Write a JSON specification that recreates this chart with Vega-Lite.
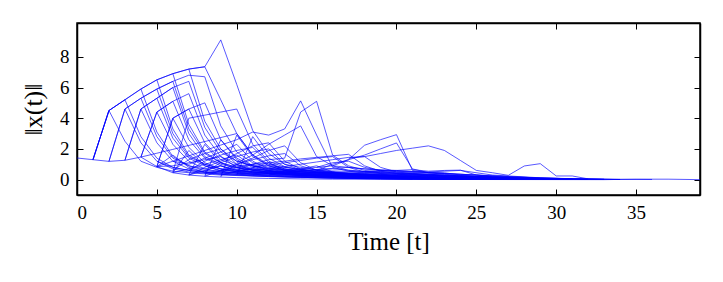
{
"$schema": "https://vega.github.io/schema/vega-lite/v6.json",
"width": 623, "height": 172,
"autosize": {"type": "none"},
"padding": {"left": 77, "top": 23, "right": 23, "bottom": 87},
"background": "white",
"config": {"view": {"stroke": "black", "strokeWidth": 1.5}, "font": "Liberation Serif"},
"data": {"values": [
{"s":0,"t":0,"v":1.41},{"s":0,"t":1,"v":1.30},{"s":0,"t":2,"v":1.19},{"s":0,"t":3,"v":1.26},{"s":0,"t":4,"v":1.47},{"s":0,"t":5,"v":0.85},{"s":0,"t":6,"v":0.45},{"s":0,"t":7,"v":0.30},{"s":0,"t":8,"v":0.22},{"s":0,"t":9,"v":0.17},{"s":0,"t":10,"v":0.13},{"s":0,"t":11,"v":0.10},{"s":0,"t":12,"v":0.08},{"s":0,"t":14,"v":0.05},{"s":0,"t":16,"v":0.03},{"s":0,"t":19,"v":0.02},{"s":0,"t":24,"v":0.01},{"s":0,"t":33,"v":0.0},{"s":0,"t":35,"v":0.03},{"s":0,"t":37,"v":0.03},{"s":0,"t":39,"v":0.0},
{"s":1,"t":1,"v":1.30},{"s":1,"t":2,"v":4.5},{"s":1,"t":3,"v":2.5},{"s":1,"t":4,"v":1.2},{"s":1,"t":5,"v":0.8},{"s":1,"t":6,"v":0.55},{"s":1,"t":7,"v":0.45},{"s":1,"t":9,"v":0.3},{"s":1,"t":12,"v":0.2},{"s":1,"t":16,"v":0.1},{"s":1,"t":22,"v":0.04},
{"s":2,"t":1,"v":1.30},{"s":2,"t":2,"v":4.5},{"s":2,"t":3,"v":5.2},{"s":2,"t":4,"v":2.8},{"s":2,"t":5,"v":1.4},{"s":2,"t":6,"v":0.8},{"s":2,"t":7,"v":0.6},{"s":2,"t":8,"v":0.5},{"s":2,"t":10,"v":0.35},{"s":2,"t":13,"v":0.22},{"s":2,"t":18,"v":0.1},{"s":2,"t":24,"v":0.03},
{"s":3,"t":1,"v":1.30},{"s":3,"t":2,"v":4.5},{"s":3,"t":3,"v":5.2},{"s":3,"t":4,"v":5.9},{"s":3,"t":5,"v":3.1},{"s":3,"t":6,"v":1.5},{"s":3,"t":7,"v":0.9},{"s":3,"t":8,"v":0.7},{"s":3,"t":9,"v":0.9},{"s":3,"t":10,"v":0.6},{"s":3,"t":12,"v":0.4},{"s":3,"t":15,"v":0.2},{"s":3,"t":20,"v":0.08},{"s":3,"t":26,"v":0.02},
{"s":4,"t":1,"v":1.30},{"s":4,"t":2,"v":4.5},{"s":4,"t":3,"v":5.2},{"s":4,"t":4,"v":5.9},{"s":4,"t":5,"v":6.5},{"s":4,"t":6,"v":3.3},{"s":4,"t":7,"v":1.6},{"s":4,"t":8,"v":1.0},{"s":4,"t":9,"v":0.7},{"s":4,"t":10,"v":0.5},{"s":4,"t":11,"v":0.7},{"s":4,"t":12,"v":0.45},{"s":4,"t":14,"v":0.3},{"s":4,"t":18,"v":0.15},{"s":4,"t":24,"v":0.05},
{"s":5,"t":4,"v":5.9},{"s":5,"t":5,"v":6.5},{"s":5,"t":6,"v":6.9},{"s":5,"t":7,"v":3.6},{"s":5,"t":8,"v":1.8},{"s":5,"t":9,"v":1.1},{"s":5,"t":10,"v":0.8},{"s":5,"t":11,"v":0.6},{"s":5,"t":13,"v":0.5},{"s":5,"t":15,"v":0.3},{"s":5,"t":19,"v":0.15},{"s":5,"t":25,"v":0.04},
{"s":6,"t":5,"v":6.5},{"s":6,"t":6,"v":6.9},{"s":6,"t":7,"v":7.2},{"s":6,"t":8,"v":3.8},{"s":6,"t":9,"v":2.0},{"s":6,"t":10,"v":1.2},{"s":6,"t":11,"v":0.9},{"s":6,"t":12,"v":0.7},{"s":6,"t":14,"v":0.5},{"s":6,"t":17,"v":0.3},{"s":6,"t":21,"v":0.12},{"s":6,"t":27,"v":0.03},
{"s":7,"t":6,"v":6.9},{"s":7,"t":7,"v":7.2},{"s":7,"t":8,"v":7.35},{"s":7,"t":9,"v":5.2},{"s":7,"t":10,"v":3.0},{"s":7,"t":11,"v":1.6},{"s":7,"t":12,"v":1.0},{"s":7,"t":13,"v":0.7},{"s":7,"t":15,"v":0.5},{"s":7,"t":18,"v":0.3},{"s":7,"t":22,"v":0.12},{"s":7,"t":28,"v":0.03},
{"s":8,"t":7,"v":7.2},{"s":8,"t":8,"v":7.35},{"s":8,"t":9,"v":9.1},{"s":8,"t":10,"v":6.2},{"s":8,"t":11,"v":3.2},{"s":8,"t":12,"v":1.7},{"s":8,"t":13,"v":1.0},{"s":8,"t":14,"v":0.8},{"s":8,"t":16,"v":0.5},{"s":8,"t":19,"v":0.3},{"s":8,"t":23,"v":0.12},{"s":8,"t":29,"v":0.03},
{"s":9,"t":2,"v":1.19},{"s":9,"t":3,"v":4.6},{"s":9,"t":4,"v":2.4},{"s":9,"t":5,"v":1.2},{"s":9,"t":6,"v":0.7},{"s":9,"t":7,"v":0.5},{"s":9,"t":9,"v":0.35},{"s":9,"t":12,"v":0.2},{"s":9,"t":16,"v":0.1},{"s":9,"t":21,"v":0.03},
{"s":10,"t":2,"v":1.19},{"s":10,"t":3,"v":4.6},{"s":10,"t":4,"v":5.3},{"s":10,"t":5,"v":2.8},{"s":10,"t":6,"v":1.4},{"s":10,"t":7,"v":0.9},{"s":10,"t":8,"v":0.6},{"s":10,"t":10,"v":0.45},{"s":10,"t":13,"v":0.3},{"s":10,"t":17,"v":0.15},{"s":10,"t":23,"v":0.04},
{"s":11,"t":3,"v":4.6},{"s":11,"t":4,"v":5.3},{"s":11,"t":5,"v":5.9},{"s":11,"t":6,"v":3.0},{"s":11,"t":7,"v":1.5},{"s":11,"t":8,"v":1.0},{"s":11,"t":9,"v":0.7},{"s":11,"t":11,"v":0.5},{"s":11,"t":14,"v":0.3},{"s":11,"t":18,"v":0.15},{"s":11,"t":24,"v":0.04},
{"s":12,"t":4,"v":5.3},{"s":12,"t":5,"v":5.9},{"s":12,"t":6,"v":6.4},{"s":12,"t":7,"v":3.3},{"s":12,"t":8,"v":1.7},{"s":12,"t":9,"v":1.1},{"s":12,"t":10,"v":0.8},{"s":12,"t":12,"v":0.6},{"s":12,"t":15,"v":0.35},{"s":12,"t":20,"v":0.15},{"s":12,"t":26,"v":0.03},
{"s":13,"t":5,"v":5.9},{"s":13,"t":6,"v":6.4},{"s":13,"t":7,"v":6.8},{"s":13,"t":8,"v":6.7},{"s":13,"t":9,"v":3.5},{"s":13,"t":10,"v":1.8},{"s":13,"t":11,"v":1.1},{"s":13,"t":12,"v":0.8},{"s":13,"t":14,"v":0.55},{"s":13,"t":17,"v":0.35},{"s":13,"t":22,"v":0.12},{"s":13,"t":28,"v":0.02},
{"s":14,"t":3,"v":1.26},{"s":14,"t":4,"v":4.6},{"s":14,"t":5,"v":2.4},{"s":14,"t":6,"v":1.2},{"s":14,"t":7,"v":0.7},{"s":14,"t":8,"v":0.5},{"s":14,"t":10,"v":0.35},{"s":14,"t":13,"v":0.2},{"s":14,"t":17,"v":0.08},{"s":14,"t":23,"v":0.02},
{"s":15,"t":3,"v":1.26},{"s":15,"t":4,"v":4.6},{"s":15,"t":5,"v":5.3},{"s":15,"t":6,"v":2.7},{"s":15,"t":7,"v":1.4},{"s":15,"t":8,"v":0.9},{"s":15,"t":9,"v":0.6},{"s":15,"t":11,"v":0.45},{"s":15,"t":14,"v":0.3},{"s":15,"t":18,"v":0.12},{"s":15,"t":24,"v":0.03},
{"s":16,"t":4,"v":4.6},{"s":16,"t":5,"v":5.3},{"s":16,"t":6,"v":6.0},{"s":16,"t":7,"v":3.0},{"s":16,"t":8,"v":1.5},{"s":16,"t":9,"v":1.0},{"s":16,"t":10,"v":0.75},{"s":16,"t":12,"v":0.5},{"s":16,"t":15,"v":0.3},{"s":16,"t":20,"v":0.12},{"s":16,"t":25,"v":0.03},
{"s":17,"t":5,"v":5.3},{"s":17,"t":6,"v":6.0},{"s":17,"t":7,"v":6.4},{"s":17,"t":8,"v":3.4},{"s":17,"t":9,"v":1.8},{"s":17,"t":10,"v":1.2},{"s":17,"t":11,"v":0.9},{"s":17,"t":13,"v":0.6},{"s":17,"t":16,"v":0.4},{"s":17,"t":21,"v":0.15},{"s":17,"t":27,"v":0.03},
{"s":18,"t":4,"v":1.47},{"s":18,"t":5,"v":4.4},{"s":18,"t":6,"v":2.3},{"s":18,"t":7,"v":1.2},{"s":18,"t":8,"v":0.7},{"s":18,"t":9,"v":0.5},{"s":18,"t":11,"v":0.35},{"s":18,"t":14,"v":0.2},{"s":18,"t":18,"v":0.08},{"s":18,"t":24,"v":0.02},
{"s":19,"t":4,"v":1.47},{"s":19,"t":5,"v":4.4},{"s":19,"t":6,"v":5.1},{"s":19,"t":7,"v":2.6},{"s":19,"t":8,"v":1.4},{"s":19,"t":9,"v":0.9},{"s":19,"t":10,"v":0.6},{"s":19,"t":12,"v":0.45},{"s":19,"t":15,"v":0.3},{"s":19,"t":19,"v":0.12},{"s":19,"t":25,"v":0.03},
{"s":20,"t":5,"v":4.4},{"s":20,"t":6,"v":5.1},{"s":20,"t":7,"v":5.6},{"s":20,"t":8,"v":2.9},{"s":20,"t":9,"v":1.5},{"s":20,"t":10,"v":1.0},{"s":20,"t":11,"v":0.7},{"s":20,"t":13,"v":0.5},{"s":20,"t":16,"v":0.3},{"s":20,"t":21,"v":0.12},{"s":20,"t":27,"v":0.02},
{"s":21,"t":5,"v":0.85},{"s":21,"t":6,"v":4.0},{"s":21,"t":7,"v":2.1},{"s":21,"t":8,"v":1.1},{"s":21,"t":9,"v":0.7},{"s":21,"t":10,"v":0.5},{"s":21,"t":12,"v":0.35},{"s":21,"t":15,"v":0.2},{"s":21,"t":19,"v":0.08},{"s":21,"t":25,"v":0.02},
{"s":22,"t":5,"v":0.85},{"s":22,"t":6,"v":4.0},{"s":22,"t":7,"v":4.6},{"s":22,"t":8,"v":2.4},{"s":22,"t":9,"v":1.3},{"s":22,"t":10,"v":0.9},{"s":22,"t":11,"v":0.6},{"s":22,"t":13,"v":0.45},{"s":22,"t":16,"v":0.3},{"s":22,"t":20,"v":0.12},{"s":22,"t":26,"v":0.03},
{"s":23,"t":6,"v":4.0},{"s":23,"t":7,"v":4.6},{"s":23,"t":8,"v":5.0},{"s":23,"t":9,"v":2.6},{"s":23,"t":10,"v":1.4},{"s":23,"t":11,"v":0.9},{"s":23,"t":12,"v":0.65},{"s":23,"t":14,"v":0.5},{"s":23,"t":17,"v":0.3},{"s":23,"t":22,"v":0.12},{"s":23,"t":28,"v":0.02},
{"s":24,"t":6,"v":0.5},{"s":24,"t":7,"v":4.0},{"s":24,"t":8,"v":4.2},{"s":24,"t":9,"v":4.4},{"s":24,"t":10,"v":4.6},{"s":24,"t":11,"v":2.3},{"s":24,"t":12,"v":1.2},{"s":24,"t":13,"v":0.8},{"s":24,"t":15,"v":0.55},{"s":24,"t":18,"v":0.3},{"s":24,"t":23,"v":0.1},{"s":24,"t":29,"v":0.02},
{"s":25,"t":4,"v":1.47},{"s":25,"t":5,"v":1.72},{"s":25,"t":6,"v":1.97},{"s":25,"t":7,"v":2.23},{"s":25,"t":8,"v":2.48},{"s":25,"t":9,"v":2.74},{"s":25,"t":10,"v":3.0},{"s":25,"t":11,"v":1.6},{"s":25,"t":12,"v":0.9},{"s":25,"t":13,"v":0.6},{"s":25,"t":15,"v":0.4},{"s":25,"t":18,"v":0.25},{"s":25,"t":23,"v":0.1},{"s":25,"t":30,"v":0.02},
{"s":26,"t":5,"v":0.85},{"s":26,"t":6,"v":1.2},{"s":26,"t":7,"v":1.55},{"s":26,"t":8,"v":1.9},{"s":26,"t":9,"v":2.25},{"s":26,"t":10,"v":2.6},{"s":26,"t":11,"v":3.1},{"s":26,"t":12,"v":2.9},{"s":26,"t":13,"v":3.3},{"s":26,"t":14,"v":5.13},{"s":26,"t":15,"v":2.9},{"s":26,"t":16,"v":0.8},{"s":26,"t":17,"v":0.55},{"s":26,"t":18,"v":0.45},{"s":26,"t":20,"v":0.35},{"s":26,"t":23,"v":0.2},{"s":26,"t":27,"v":0.06},{"s":26,"t":31,"v":0.02},
{"s":27,"t":5,"v":0.85},{"s":27,"t":6,"v":1.6},{"s":27,"t":7,"v":0.8},{"s":27,"t":8,"v":0.5},{"s":27,"t":9,"v":0.35},{"s":27,"t":11,"v":0.25},{"s":27,"t":14,"v":0.15},{"s":27,"t":18,"v":0.06},{"s":27,"t":24,"v":0.02},
{"s":28,"t":6,"v":0.45},{"s":28,"t":7,"v":1.9},{"s":28,"t":8,"v":0.9},{"s":28,"t":9,"v":0.55},{"s":28,"t":10,"v":0.4},{"s":28,"t":12,"v":0.3},{"s":28,"t":15,"v":0.18},{"s":28,"t":19,"v":0.07},{"s":28,"t":25,"v":0.02},
{"s":29,"t":7,"v":0.3},{"s":29,"t":8,"v":2.3},{"s":29,"t":9,"v":1.1},{"s":29,"t":10,"v":0.65},{"s":29,"t":11,"v":0.45},{"s":29,"t":13,"v":0.35},{"s":29,"t":16,"v":0.2},{"s":29,"t":20,"v":0.08},{"s":29,"t":26,"v":0.02},
{"s":30,"t":8,"v":0.22},{"s":30,"t":9,"v":2.6},{"s":30,"t":10,"v":1.3},{"s":30,"t":11,"v":0.8},{"s":30,"t":12,"v":0.55},{"s":30,"t":14,"v":0.4},{"s":30,"t":17,"v":0.25},{"s":30,"t":21,"v":0.1},{"s":30,"t":27,"v":0.02},
{"s":31,"t":9,"v":0.17},{"s":31,"t":10,"v":2.9},{"s":31,"t":11,"v":1.5},{"s":31,"t":12,"v":0.9},{"s":31,"t":13,"v":0.6},{"s":31,"t":15,"v":0.45},{"s":31,"t":18,"v":0.3},{"s":31,"t":22,"v":0.12},{"s":31,"t":28,"v":0.03},
{"s":32,"t":10,"v":0.3},{"s":32,"t":11,"v":2.8},{"s":32,"t":12,"v":1.4},{"s":32,"t":13,"v":0.85},{"s":32,"t":14,"v":0.6},{"s":32,"t":16,"v":0.45},{"s":32,"t":19,"v":0.3},{"s":32,"t":23,"v":0.12},{"s":32,"t":29,"v":0.03},
{"s":33,"t":6,"v":0.6},{"s":33,"t":7,"v":1.3},{"s":33,"t":8,"v":1.7},{"s":33,"t":9,"v":2.0},{"s":33,"t":10,"v":1.0},{"s":33,"t":11,"v":0.6},{"s":33,"t":12,"v":0.45},{"s":33,"t":14,"v":0.35},{"s":33,"t":17,"v":0.2},{"s":33,"t":22,"v":0.07},
{"s":34,"t":7,"v":0.6},{"s":34,"t":8,"v":1.2},{"s":34,"t":9,"v":1.6},{"s":34,"t":10,"v":1.9},{"s":34,"t":11,"v":2.1},{"s":34,"t":12,"v":1.1},{"s":34,"t":13,"v":0.7},{"s":34,"t":14,"v":0.5},{"s":34,"t":16,"v":0.4},{"s":34,"t":19,"v":0.25},{"s":34,"t":24,"v":0.08},
{"s":35,"t":8,"v":0.5},{"s":35,"t":9,"v":1.1},{"s":35,"t":10,"v":1.5},{"s":35,"t":11,"v":1.8},{"s":35,"t":12,"v":2.0},{"s":35,"t":13,"v":1.0},{"s":35,"t":14,"v":0.65},{"s":35,"t":15,"v":0.5},{"s":35,"t":17,"v":0.4},{"s":35,"t":20,"v":0.25},{"s":35,"t":25,"v":0.08},
{"s":36,"t":9,"v":0.4},{"s":36,"t":10,"v":1.0},{"s":36,"t":11,"v":1.3},{"s":36,"t":12,"v":1.55},{"s":36,"t":13,"v":1.7},{"s":36,"t":14,"v":0.9},{"s":36,"t":15,"v":0.6},{"s":36,"t":16,"v":0.5},{"s":36,"t":18,"v":0.4},{"s":36,"t":21,"v":0.25},{"s":36,"t":26,"v":0.06},
{"s":37,"t":10,"v":0.6},{"s":37,"t":11,"v":1.0},{"s":37,"t":12,"v":1.3},{"s":37,"t":13,"v":1.4},{"s":37,"t":14,"v":4.4},{"s":37,"t":15,"v":5.1},{"s":37,"t":16,"v":1.6},{"s":37,"t":17,"v":0.9},{"s":37,"t":18,"v":0.6},{"s":37,"t":20,"v":0.45},{"s":37,"t":23,"v":0.25},{"s":37,"t":27,"v":0.08},{"s":37,"t":31,"v":0.02},
{"s":38,"t":10,"v":1.1},{"s":38,"t":11,"v":1.6},{"s":38,"t":12,"v":2.3},{"s":38,"t":13,"v":2.9},{"s":38,"t":14,"v":3.5},{"s":38,"t":15,"v":1.5},{"s":38,"t":16,"v":0.9},{"s":38,"t":17,"v":0.6},{"s":38,"t":19,"v":0.45},{"s":38,"t":22,"v":0.3},{"s":38,"t":26,"v":0.1},{"s":38,"t":30,"v":0.02},
{"s":40,"t":15,"v":0.6},{"s":40,"t":16,"v":1.0},{"s":40,"t":17,"v":1.3},{"s":40,"t":18,"v":2.24},{"s":40,"t":19,"v":2.6},{"s":40,"t":20,"v":2.93},{"s":40,"t":21,"v":0.6},{"s":40,"t":22,"v":0.45},{"s":40,"t":23,"v":0.4},{"s":40,"t":24,"v":0.35},{"s":40,"t":25,"v":0.3},{"s":40,"t":27,"v":0.15},{"s":40,"t":30,"v":0.05},
{"s":41,"t":16,"v":0.9},{"s":41,"t":17,"v":1.3},{"s":41,"t":18,"v":1.6},{"s":41,"t":19,"v":2.0},{"s":41,"t":20,"v":2.39},{"s":41,"t":21,"v":0.7},{"s":41,"t":22,"v":0.45},{"s":41,"t":23,"v":0.35},{"s":41,"t":25,"v":0.2},{"s":41,"t":28,"v":0.08},{"s":41,"t":31,"v":0.02},
{"s":42,"t":17,"v":1.4},{"s":42,"t":18,"v":1.5},{"s":42,"t":19,"v":1.7},{"s":42,"t":20,"v":1.9},{"s":42,"t":21,"v":2.05},{"s":42,"t":22,"v":2.2},{"s":42,"t":23,"v":1.9},{"s":42,"t":24,"v":1.25},{"s":42,"t":25,"v":0.6},{"s":42,"t":26,"v":0.45},{"s":42,"t":27,"v":0.28},{"s":42,"t":28,"v":0.89},{"s":42,"t":29,"v":1.04},{"s":42,"t":30,"v":0.24},{"s":42,"t":31,"v":0.24},{"s":42,"t":32,"v":0.05},{"s":42,"t":34,"v":0.02},{"s":42,"t":36,"v":0.01},
{"s":43,"t":18,"v":0.5},{"s":43,"t":19,"v":0.55},{"s":43,"t":20,"v":0.6},{"s":43,"t":21,"v":0.65},{"s":43,"t":22,"v":0.55},{"s":43,"t":23,"v":0.6},{"s":43,"t":24,"v":0.62},{"s":43,"t":25,"v":0.3},{"s":43,"t":26,"v":0.18},{"s":43,"t":28,"v":0.08},{"s":43,"t":31,"v":0.03},
{"s":44,"t":15,"v":0.8},{"s":44,"t":16,"v":1.1},{"s":44,"t":17,"v":1.2},{"s":44,"t":18,"v":0.8},{"s":44,"t":19,"v":0.6},{"s":44,"t":20,"v":0.55},{"s":44,"t":21,"v":0.5},{"s":44,"t":23,"v":0.45},{"s":44,"t":24,"v":0.3},{"s":44,"t":26,"v":0.15},{"s":44,"t":29,"v":0.05},
{"s":45,"t":10,"v":0.9},{"s":45,"t":11,"v":1.0},{"s":45,"t":12,"v":1.1},{"s":45,"t":13,"v":1.2},{"s":45,"t":14,"v":1.35},{"s":45,"t":15,"v":1.45},{"s":45,"t":16,"v":1.55},{"s":45,"t":17,"v":1.65},{"s":45,"t":18,"v":0.9},{"s":45,"t":19,"v":0.55},{"s":45,"t":20,"v":0.4},{"s":45,"t":22,"v":0.3},{"s":45,"t":25,"v":0.15},{"s":45,"t":29,"v":0.04},
{"s":46,"t":11,"v":0.8},{"s":46,"t":12,"v":0.95},{"s":46,"t":13,"v":1.1},{"s":46,"t":14,"v":1.25},{"s":46,"t":15,"v":1.4},{"s":46,"t":16,"v":1.5},{"s":46,"t":17,"v":0.8},{"s":46,"t":18,"v":0.5},{"s":46,"t":19,"v":0.4},{"s":46,"t":21,"v":0.3},{"s":46,"t":24,"v":0.15},{"s":46,"t":28,"v":0.04},
{"s":47,"t":12,"v":0.7},{"s":47,"t":13,"v":0.85},{"s":47,"t":14,"v":1.0},{"s":47,"t":15,"v":1.15},{"s":47,"t":16,"v":1.3},{"s":47,"t":17,"v":1.45},{"s":47,"t":18,"v":1.5},{"s":47,"t":19,"v":0.8},{"s":47,"t":20,"v":0.5},{"s":47,"t":21,"v":0.4},{"s":47,"t":23,"v":0.3},{"s":47,"t":26,"v":0.12},{"s":47,"t":30,"v":0.03},
{"s":48,"t":7,"v":0.3},{"s":48,"t":8,"v":0.6},{"s":48,"t":9,"v":0.9},{"s":48,"t":10,"v":0.5},{"s":48,"t":11,"v":0.35},{"s":48,"t":12,"v":0.6},{"s":48,"t":13,"v":0.4},{"s":48,"t":14,"v":0.3},{"s":48,"t":16,"v":0.25},{"s":48,"t":19,"v":0.15},{"s":48,"t":23,"v":0.06},{"s":48,"t":30,"v":0.01},
{"s":49,"t":9,"v":0.3},{"s":49,"t":10,"v":0.5},{"s":49,"t":11,"v":0.8},{"s":49,"t":12,"v":1.1},{"s":49,"t":13,"v":0.6},{"s":49,"t":14,"v":0.4},{"s":49,"t":15,"v":0.35},{"s":49,"t":16,"v":0.5},{"s":49,"t":17,"v":0.3},{"s":49,"t":19,"v":0.2},{"s":49,"t":24,"v":0.06},
{"s":50,"t":12,"v":0.3},{"s":50,"t":13,"v":0.5},{"s":50,"t":14,"v":0.7},{"s":50,"t":15,"v":0.9},{"s":50,"t":16,"v":0.5},{"s":50,"t":17,"v":0.35},{"s":50,"t":18,"v":0.3},{"s":50,"t":19,"v":0.35},{"s":50,"t":20,"v":0.25},{"s":50,"t":22,"v":0.2},{"s":50,"t":26,"v":0.06},{"s":50,"t":32,"v":0.01},
{"s":51,"t":5,"v":0.85},{"s":51,"t":6,"v":0.9},{"s":51,"t":7,"v":1.1},{"s":51,"t":8,"v":1.3},{"s":51,"t":9,"v":1.5},{"s":51,"t":10,"v":0.8},{"s":51,"t":11,"v":0.5},{"s":51,"t":12,"v":0.4},{"s":51,"t":14,"v":0.3},{"s":51,"t":17,"v":0.18},{"s":51,"t":22,"v":0.06},
{"s":52,"t":6,"v":0.45},{"s":52,"t":7,"v":0.7},{"s":52,"t":8,"v":1.0},{"s":52,"t":9,"v":1.3},{"s":52,"t":10,"v":1.6},{"s":52,"t":11,"v":0.9},{"s":52,"t":12,"v":0.55},{"s":52,"t":13,"v":0.4},{"s":52,"t":15,"v":0.3},{"s":52,"t":18,"v":0.18},{"s":52,"t":23,"v":0.06},
{"s":53,"t":7,"v":0.3},{"s":53,"t":8,"v":0.8},{"s":53,"t":9,"v":1.2},{"s":53,"t":10,"v":1.7},{"s":53,"t":11,"v":2.2},{"s":53,"t":12,"v":2.4},{"s":53,"t":13,"v":1.2},{"s":53,"t":14,"v":0.7},{"s":53,"t":15,"v":0.5},{"s":53,"t":17,"v":0.35},{"s":53,"t":20,"v":0.2},{"s":53,"t":25,"v":0.06},
{"s":54,"t":8,"v":0.22},{"s":54,"t":9,"v":0.6},{"s":54,"t":10,"v":1.0},{"s":54,"t":11,"v":1.4},{"s":54,"t":12,"v":1.9},{"s":54,"t":13,"v":2.2},{"s":54,"t":14,"v":1.1},{"s":54,"t":15,"v":0.6},{"s":54,"t":16,"v":0.45},{"s":54,"t":18,"v":0.3},{"s":54,"t":22,"v":0.12},{"s":54,"t":27,"v":0.03},
{"s":55,"t":6,"v":1.2},{"s":55,"t":7,"v":1.0},{"s":55,"t":8,"v":1.4},{"s":55,"t":9,"v":1.8},{"s":55,"t":10,"v":2.3},{"s":55,"t":11,"v":1.2},{"s":55,"t":12,"v":0.7},{"s":55,"t":13,"v":0.5},{"s":55,"t":15,"v":0.35},{"s":55,"t":18,"v":0.2},{"s":55,"t":23,"v":0.06},
{"s":56,"t":5,"v":1.2},{"s":56,"t":6,"v":0.8},{"s":56,"t":7,"v":0.6},{"s":56,"t":8,"v":0.45},{"s":56,"t":9,"v":0.6},{"s":56,"t":10,"v":0.8},{"s":56,"t":11,"v":1.0},{"s":56,"t":12,"v":0.6},{"s":56,"t":13,"v":0.4},{"s":56,"t":15,"v":0.3},{"s":56,"t":19,"v":0.15},{"s":56,"t":25,"v":0.04},
{"s":57,"t":8,"v":0.4},{"s":57,"t":11,"v":0.55},{"s":57,"t":14,"v":0.45},{"s":57,"t":17,"v":0.35},{"s":57,"t":20,"v":0.3},{"s":57,"t":24,"v":0.15},{"s":57,"t":28,"v":0.05},{"s":57,"t":32,"v":0.01},
{"s":58,"t":9,"v":0.6},{"s":58,"t":12,"v":0.7},{"s":58,"t":15,"v":0.6},{"s":58,"t":18,"v":0.5},{"s":58,"t":21,"v":0.4},{"s":58,"t":24,"v":0.25},{"s":58,"t":27,"v":0.12},{"s":58,"t":31,"v":0.03},
{"s":59,"t":10,"v":0.4},{"s":59,"t":13,"v":0.5},{"s":59,"t":16,"v":0.7},{"s":59,"t":19,"v":0.45},{"s":59,"t":22,"v":0.35},{"s":59,"t":25,"v":0.2},{"s":59,"t":29,"v":0.06},{"s":59,"t":33,"v":0.01},
{"s":60,"t":11,"v":0.3},{"s":60,"t":14,"v":0.6},{"s":60,"t":17,"v":0.8},{"s":60,"t":20,"v":0.5},{"s":60,"t":23,"v":0.4},{"s":60,"t":26,"v":0.25},{"s":60,"t":29,"v":0.1},{"s":60,"t":33,"v":0.02},
{"s":61,"t":13,"v":0.4},{"s":61,"t":16,"v":0.3},{"s":61,"t":19,"v":0.6},{"s":61,"t":22,"v":0.5},{"s":61,"t":24,"v":0.6},{"s":61,"t":26,"v":0.3},{"s":61,"t":29,"v":0.12},{"s":61,"t":32,"v":0.03},
{"s":62,"t":12,"v":0.9},{"s":62,"t":14,"v":0.7},{"s":62,"t":16,"v":0.9},{"s":62,"t":18,"v":0.7},{"s":62,"t":20,"v":0.6},{"s":62,"t":22,"v":0.45},{"s":62,"t":25,"v":0.3},{"s":62,"t":28,"v":0.15},{"s":62,"t":31,"v":0.05},{"s":62,"t":34,"v":0.01},
{"s":63,"t":14,"v":0.25},{"s":63,"t":17,"v":0.4},{"s":63,"t":20,"v":0.35},{"s":63,"t":23,"v":0.25},{"s":63,"t":26,"v":0.2},{"s":63,"t":28,"v":0.15},{"s":63,"t":30,"v":0.08},{"s":63,"t":33,"v":0.02},
{"s":64,"t":16,"v":0.2},{"s":64,"t":19,"v":0.25},{"s":64,"t":21,"v":0.3},{"s":64,"t":24,"v":0.2},{"s":64,"t":27,"v":0.1},{"s":64,"t":30,"v":0.06},{"s":64,"t":34,"v":0.01}
]},
"layer": [
 {"mark": {"type": "line", "stroke": "#0000ff", "strokeWidth": 1, "opacity": 0.65},
  "encoding": {
   "x": {"field": "t", "type": "quantitative", "scale": {"domain": [0, 39], "nice": false, "zero": false},
         "axis": {"orient": "bottom", "values": [0,5,10,15,20,25,30,35], "grid": false, "domainColor": "black", "domainWidth": 1.5, "tickColor": "black", "tickSize": -6, "labelColor": "black", "labelFont": "Liberation Serif", "labelFontSize": 19, "labelPadding": 14, "title": "Time [t]", "titleFont": "Liberation Serif", "titleFontSize": 25, "titleFontWeight": "normal", "titleColor": "black", "titlePadding": 7}},
   "y": {"field": "v", "type": "quantitative", "scale": {"domain": [-1, 10.2], "nice": false, "zero": false},
         "axis": {"orient": "left", "values": [0,2,4,6,8], "grid": false, "domainColor": "black", "domainWidth": 1.5, "tickColor": "black", "tickSize": -6, "labelColor": "black", "labelFont": "Liberation Serif", "labelFontSize": 19, "labelPadding": 14, "title": "‖x(t)‖", "titleFont": "Liberation Serif", "titleFontSize": 26, "titleFontWeight": "normal", "titleColor": "black", "titlePadding": 13}},
   "detail": {"field": "s", "type": "nominal"}
  }},
 {"mark": {"type": "line", "opacity": 0},
  "encoding": {
   "x": {"field": "t", "type": "quantitative", "axis": {"orient": "top", "values": [0,5,10,15,20,25,30,35], "grid": false, "domainColor": "black", "domainWidth": 1.5, "tickColor": "black", "tickSize": -6, "labels": false, "title": null}},
   "y": {"field": "v", "type": "quantitative", "axis": {"orient": "right", "values": [0,2,4,6,8], "grid": false, "domainColor": "black", "domainWidth": 1.5, "tickColor": "black", "tickSize": -6, "labels": false, "title": null}},
   "detail": {"field": "s", "type": "nominal"}
  }}
],
"resolve": {"axis": {"x": "independent", "y": "independent"}}
}
